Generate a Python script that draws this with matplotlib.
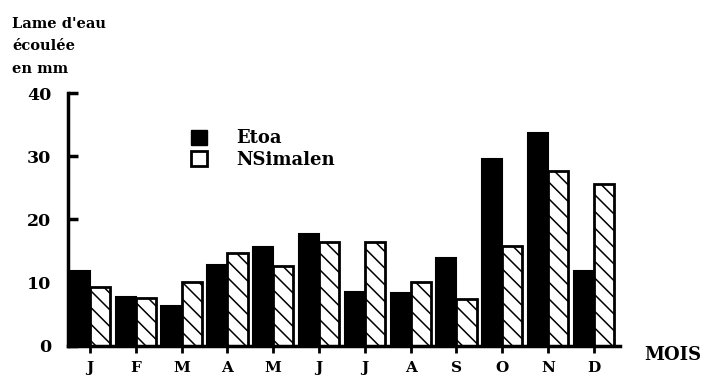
import matplotlib
matplotlib.use("Agg")
import matplotlib.pyplot as plt
import numpy as np
from matplotlib.patches import Patch

# ---- data (mm of runoff per month)
months = ["J", "F", "M", "A", "M", "J", "J", "A", "S", "O", "N", "D"]
etoa = [11.8, 7.7, 6.4, 12.8, 15.6, 17.7, 8.5, 8.4, 13.9, 29.5, 33.6, 11.8]
nsimalen = [9.3, 7.6, 10.1, 14.7, 12.6, 16.5, 16.5, 10.1, 7.4, 15.8, 27.6, 25.6]
yticks = [0, 10, 20, 30, 40]

plt.rcParams['font.family'] = ['DejaVu Serif']
plt.rcParams['hatch.linewidth'] = 1.1

fig = plt.figure(figsize=(7.09, 3.81), dpi=100)
ax = fig.add_axes([0.0959, 0.0919, 0.7786, 0.6640])

x = np.arange(len(months))
w = 0.44
ax.bar(x - w / 2, etoa, width=w, color="black", edgecolor="black", linewidth=1.5)
ax.bar(x + w / 2, nsimalen, width=w, color="white", edgecolor="black",
       linewidth=2, hatch="\\\\")

ax.set_xlim(-0.48, 11.57)
ax.set_ylim(0, 40)
ax.set_xticks(x)
ax.set_xticklabels(months, fontsize=11, fontweight="bold")
ax.set_yticks(yticks)
ax.set_yticklabels([str(t) for t in yticks], fontsize=12.5, fontweight="bold")

for s in ["top", "right"]:
    ax.spines[s].set_visible(False)
ax.spines["left"].set_linewidth(2.5)
ax.spines["bottom"].set_linewidth(2.5)
ax.tick_params(axis="y", direction="in", length=7, width=2.5, pad=12)
ax.tick_params(axis="x", direction="out", length=5, width=2, pad=6)

# y label, top-left
fig.text(0.017, 0.955, "Lame d'eau\nécoulée\nen mm", fontsize=10.5, fontweight="bold",
         va="top", ha="left", linespacing=1.75)
# x label
fig.text(0.908, 0.068, "MOIS", fontsize=13, fontweight="bold", va="center", ha="left")

handles = [Patch(facecolor="black", edgecolor="black"),
           Patch(facecolor="white", edgecolor="black", linewidth=2)]
ax.legend(handles, ["Etoa", "NSimalen"], loc="upper left",
          bbox_to_anchor=(0.21, 0.885), frameon=False,
          prop={"size": 13, "weight": "bold"},
          handlelength=0.9, handleheight=0.9, handletextpad=1.6,
          labelspacing=0.2, borderaxespad=0)

fig.savefig("out.png", dpi=100)
